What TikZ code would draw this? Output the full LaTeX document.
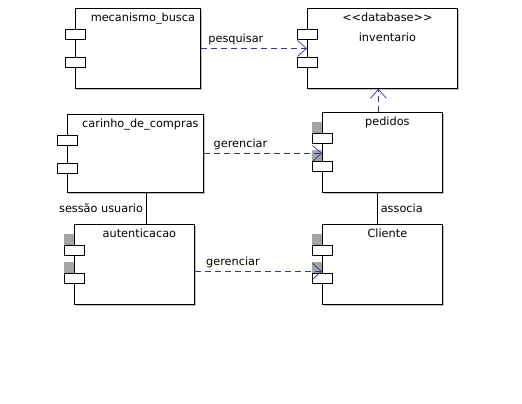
\documentclass[tikz,border=0pt]{standalone}
\usepackage{fontspec}
\setmainfont{DejaVu Sans}
\usetikzlibrary{arrows.meta,positioning,shadows}

\definecolor{depblue}{RGB}{51,51,160}
\definecolor{portgray}{RGB}{165,165,165}

\tikzset{
  comp/.style={draw, line width=0.8pt, fill=white, anchor=north west, inner sep=0pt,
    minimum height=80pt, general shadow={fill=black!25, shadow xshift=1.5pt, shadow yshift=-1.5pt}},
  port/.style={draw, line width=0.8pt, fill=white, minimum width=20pt, minimum height=10pt, inner sep=0pt},
  title/.style={anchor=north, inner sep=0pt, font=\fontsize{11.3}{20}\selectfont, align=center},
  dep/.style={depblue, line width=0.7pt, dash pattern=on 6pt off 4pt,
    -{Straight Barb[length=9pt,width=16pt]}},
  assoc/.style={line width=0.8pt},
  lbl/.style={text=black, font=\fontsize{11.3}{13}\selectfont, inner sep=3pt},
}

\begin{document}
\begin{tikzpicture}[x=1pt,y=-1pt]
\useasboundingbox[fill=white] (0,0) rectangle (522,404);

% --- componenti ---
\node[comp, minimum width=125pt] (busca) at (75,8) {};
\node[comp, minimum width=150pt] (inv) at (307,8) {};
\node[comp, minimum width=136pt, minimum height=78pt] (carrinho) at (67,114) {};
\node[comp, minimum width=120pt] (pedidos) at (322,112) {};
\node[comp, minimum width=120pt] (auth) at (74,224) {};
\node[comp, minimum width=120pt] (cliente) at (322,224) {};

% ombre grigie sopra le porte
\foreach \c in {pedidos,auth,cliente} {
  \fill[portgray] ([xshift=-10pt,yshift=-10pt]\c.north west) rectangle ([xshift=-0.4pt,yshift=-21pt]\c.north west);
  \fill[portgray] ([xshift=-10pt,yshift=-38pt]\c.north west) rectangle ([xshift=-0.4pt,yshift=-49pt]\c.north west);
}

% porte
\foreach \c in {busca,inv,carrinho,pedidos,auth,cliente} {
  \node[port] (\c-p1) at ([yshift=-26pt]\c.north west) {};
  \node[port] (\c-p2) at ([yshift=-54pt]\c.north west) {};
}

% nomi
\node[title] (busca-name) at ([xshift=5pt,yshift=-5pt]busca.north) {mecanismo\_busca};
\node[title] (inv-name) at ([xshift=5pt,yshift=-5pt]inv.north) {<{}<database>{}>\\inventario};
\node[title] (carrinho-name) at ([xshift=5pt,yshift=-5pt]carrinho.north) {carinho\_de\_compras};
\node[title] (pedidos-name) at ([xshift=5pt,yshift=-5pt]pedidos.north) {pedidos};
\node[title] (auth-name) at ([xshift=5pt,yshift=-5pt]auth.north) {autenticacao};
\node[title] (cliente-name) at ([xshift=5pt,yshift=-5pt]cliente.north) {Cliente};

% --- dipendenze ---
\draw[dep] (busca.east) -- (inv.west) node[lbl, above, pos=0.33] {pesquisar};
\draw[dep] (carrinho.east) -- (carrinho.east -| pedidos.west) node[lbl, above, pos=0.31] {gerenciar};
\draw[dep] ([yshift=-7pt]auth.east) -- ([yshift=-7pt]cliente.west) node[lbl, above, pos=0.3] {gerenciar};
\draw[dep] ([xshift=-4pt]pedidos.north) -- ([xshift=-4pt]inv.south);

% --- associazioni ---
\draw[assoc] ([xshift=11pt]carrinho.south) -- ([xshift=11pt]carrinho.south |- auth.north) node[lbl, midway, left] {sessão usuario};
\draw[assoc] ([xshift=-5pt]pedidos.south) -- ([xshift=-5pt]cliente.north) node[lbl, midway, right] {associa};

\end{tikzpicture}
\end{document}
